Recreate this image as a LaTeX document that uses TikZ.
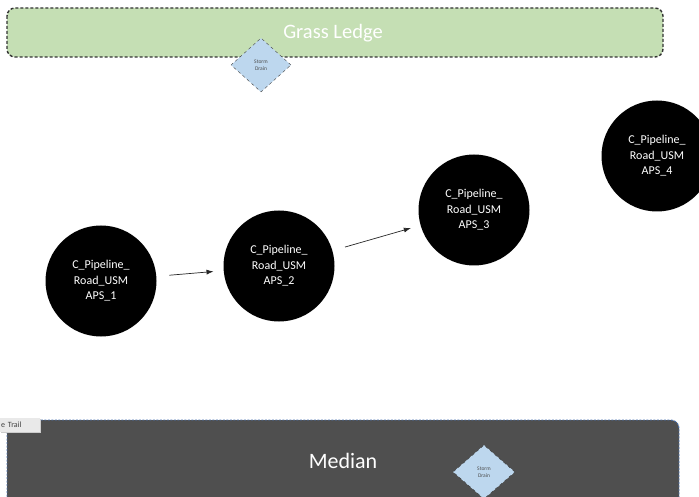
\documentclass[tikz,border=0pt]{standalone}
\usepackage{fontspec}
\setmainfont{Carlito}
\usetikzlibrary{shapes.geometric,arrows.meta}
\definecolor{grass}{HTML}{C5DFB4}
\definecolor{median}{HTML}{4F4F4F}
\definecolor{drain}{HTML}{BDD7EE}
\definecolor{medianedge}{HTML}{4A72B0}
\definecolor{tabfill}{HTML}{E9E9E9}
\tikzset{
  zone/.style={rounded corners=8pt, dashed},
  drainbox/.style={diamond, draw=black!75, dashed, fill=drain, inner sep=0pt,
    minimum width=60pt, minimum height=54pt, align=center,
    font=\fontsize{5.5}{6.5}\selectfont, text=black!70},
  station/.style={circle, fill=black, minimum size=111pt, inner sep=0pt,
    align=center, text=white, font=\fontsize{12}{15.5}\selectfont},
  flow/.style={-{Latex[length=7pt,width=5pt]}, line width=0.7pt, black!85,
    shorten <=13pt, shorten >=10pt},
}
\begin{document}
\begin{tikzpicture}[x=1pt,y=-1pt]
  \useasboundingbox (0,0) rectangle (699,497);
  \clip (0,0) rectangle (699,497);
  \fill[white] (0,0) rectangle (699,497);

  % grass ledge along the top
  \draw[zone, fill=grass, draw=black!80, line width=1.4pt, dash pattern=on 3pt off 2pt]
    (7,8) rectangle (663,57);
  \node[text=white, font=\fontsize{20.5}{22}\selectfont] (ledge) at (333,33) {Grass Ledge};

  % median along the bottom
  \draw[zone, fill=median, draw=medianedge, line width=0.9pt, dash pattern=on 2pt off 1.5pt]
    (7,420) rectangle (679,512);
  \node[text=white, font=\fontsize{22}{24}\selectfont] (median) at (343,461) {Median};

  % partly hidden trail label
  \fill[black!20] (1,419) rectangle (41,433);
  \node[fill=tabfill, anchor=north west, inner sep=0pt,
    minimum width=40pt, minimum height=14pt, text=black!75,
    font=\fontsize{8}{9}\selectfont, text width=38pt, align=left] (trail) at (0,418) {e Trail};

  % storm drains
  \node[drainbox] (drainA) at (261,65) {Storm\\Drain};
  \node[drainbox, draw=black!80, minimum width=62pt, minimum height=54pt] (drainB) at (484,472) {Storm\\Drain};

  % pipeline stations
  \node[station] (c1) at (101,281) {C\_Pipeline\_\\Road\_USM\\APS\_1};
  \node[station] (c2) at (279,266) {C\_Pipeline\_\\Road\_USM\\APS\_2};
  \node[station] (c3) at (474,210) {C\_Pipeline\_\\Road\_USM\\APS\_3};
  \node[station] (c4) at (657,156) {C\_Pipeline\_\\Road\_USM\\APS\_4};

  % flow between stations
  \draw[flow] (c1) -- (c2);
  \draw[flow] (c2) -- (c3);
\end{tikzpicture}
\end{document}
